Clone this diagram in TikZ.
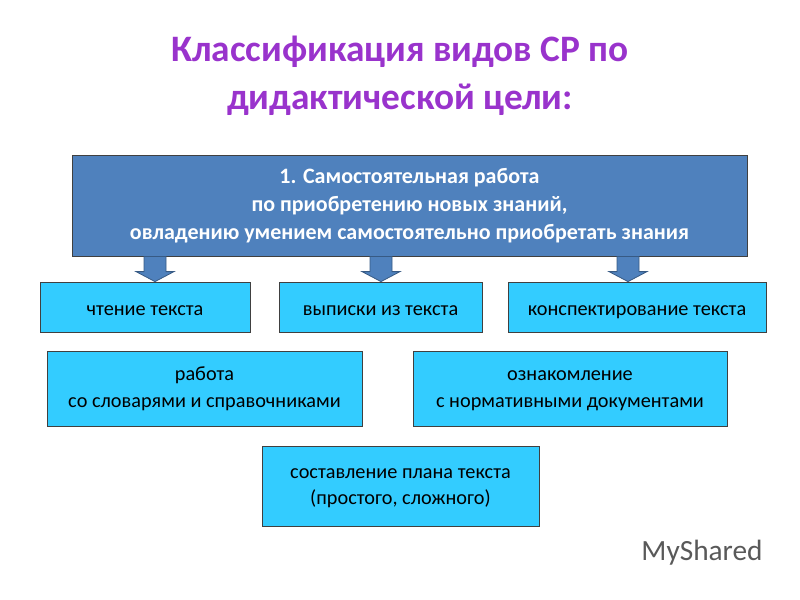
\documentclass[tikz,border=0pt]{standalone}
\usepackage{fontspec}
\setmainfont{Carlito}
\usetikzlibrary{calc}
\definecolor{ttl}{HTML}{9933CC}
\definecolor{topb}{HTML}{4F81BD}
\definecolor{cyanb}{HTML}{33CCFF}
\definecolor{arr}{HTML}{4F81BD}
\tikzset{
 box/.style={draw=black!75,fill=cyanb,line width=0.6pt,inner sep=0pt,align=center,font=\fontsize{15.2}{20}\selectfont},
 oneline/.style={box,text height=13.9pt,text depth=0.8pt},
 blk/.style={draw=arr!70!black,fill=arr,line width=0.6pt},
}
\newcommand{\blockarrow}[2]{%
 \fill[blk] ($(#1)+(-11,0)$) -- ($(#1)+(11,0)$) -- ($(#2)+(11,-10)$) -- ($(#2)+(19,-10)$) -- (#2) -- ($(#2)+(-19,-10)$) -- ($(#2)+(-11,-10)$) -- cycle;}
\begin{document}
\begin{tikzpicture}[x=0.75pt,y=-0.75pt]
\useasboundingbox (0,0) rectangle (800,600);
\node[font=\fontsize{28}{36}\selectfont\bfseries,text=ttl,align=center] (title) at (400,76) {Классификация видов СР по\\дидактической цели:};
\node[draw=black!75,fill=topb,line width=0.6pt,minimum width=675*0.75pt,minimum height=101*0.75pt,text=white,align=center,font=\fontsize{16.5}{21}\selectfont\bfseries] (top) at (409.5,205.5) {\strut 1. Самостоятельная работа\\\strut по приобретению новых знаний,\\\strut овладению умением самостоятельно приобретать знания};
\node[oneline,minimum width=210*0.75pt,minimum height=50*0.75pt] (b1) at (145,307) {чтение текста};
\node[oneline,minimum width=203*0.75pt,minimum height=50*0.75pt] (b2) at (380.5,307) {выписки из текста};
\node[oneline,minimum width=258*0.75pt,minimum height=50*0.75pt] (b3) at (637,307) {конспектирование текста};
\node[box,minimum width=315*0.75pt,minimum height=75*0.75pt] (b4) at (204.5,388.5) {\strut работа\\\strut со словарями и справочниками};
\node[box,minimum width=314*0.75pt,minimum height=75*0.75pt] (b5) at (570,388.5) {\strut ознакомление\\\strut с нормативными документами};
\node[box,minimum width=277*0.75pt,minimum height=80*0.75pt] (b6) at (400.5,486) {\strut составление плана текста\\\strut (простого, сложного)};
\coordinate (a1s) at (top.south -| 155,0); \coordinate (a1e) at (b1.north -| 155,0);
\coordinate (a2s) at (top.south -| 381,0); \coordinate (a2e) at (b2.north -| 381,0);
\coordinate (a3s) at (top.south -| 628,0); \coordinate (a3e) at (b3.north -| 628,0);
\blockarrow{a1s}{a1e}
\blockarrow{a2s}{a2e}
\blockarrow{a3s}{a3e}
\node[text=black!65,font=\fontsize{22}{26}\selectfont] (logo) at (702,553) {MyShared};
\end{tikzpicture}
\end{document}
